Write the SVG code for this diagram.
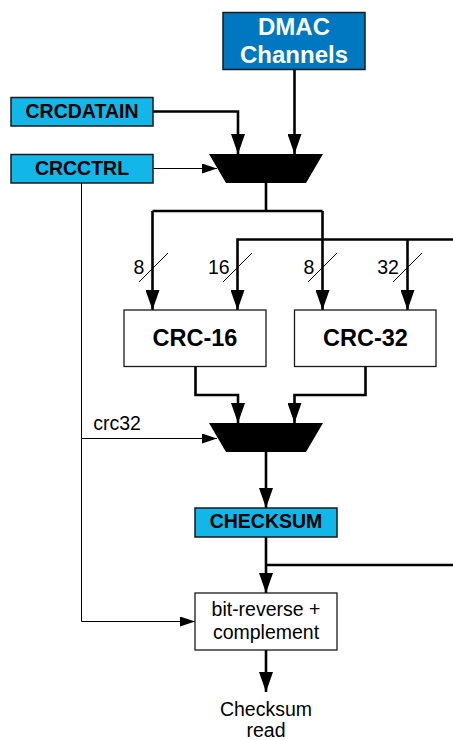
<svg xmlns="http://www.w3.org/2000/svg" width="453" height="740" viewBox="0 0 453 740">
<style>
text{font-family:"Liberation Sans",Arial,sans-serif;text-anchor:middle}
.reg{fill:#13B6E9;stroke:#1a1a1a;stroke-width:1.5}
.blk{fill:#fff;stroke:#1a1a1a;stroke-width:1.3}
.b15{font-size:19.5px;font-weight:bold;fill:#000}
.b20{font-size:23.5px;font-weight:bold;fill:#000}
.n15{font-size:19.5px;fill:#000}
.num{font-size:19.5px;fill:#000}
.thick{fill:none;stroke:#000;stroke-width:2.6}
.thin{fill:none;stroke:#000;stroke-width:1}
.sl{stroke:#000;stroke-width:1}
</style>
<defs>
<marker id="ah" viewBox="0 0 20 14" refX="20" refY="7" markerWidth="20" markerHeight="14" markerUnits="userSpaceOnUse" orient="auto"><path d="M0,0 L20,7 L0,14 z" fill="#000"/></marker>
<marker id="ahs" viewBox="0 0 15 10" refX="15" refY="5" markerWidth="15" markerHeight="10" markerUnits="userSpaceOnUse" orient="auto"><path d="M0,0 L15,5 L0,10 z" fill="#000"/></marker>
</defs>
<g id="connectors">
<path class="thick" d="M153,111.5 H238 V154" marker-end="url(#ah)"/>
<path class="thick" d="M294.5,69.5 V154" marker-end="url(#ah)"/>
<path class="thin" d="M153,168.5 H217" marker-end="url(#ahs)"/>
<path class="thick" d="M266,183 V211"/>
<path class="thick" d="M152.5,211 H322.5"/>
<path class="thick" d="M152.5,211 V310" marker-end="url(#ah)"/>
<path class="thick" d="M322.5,211 V310" marker-end="url(#ah)"/>
<path class="thick" d="M453,239.5 H237.5 V310" marker-end="url(#ah)"/>
<path class="thick" d="M407.5,239.5 V310" marker-end="url(#ah)"/>
<line class="sl" x1="139" y1="282" x2="168" y2="253"/>
<line class="sl" x1="223" y1="282" x2="252" y2="253"/>
<line class="sl" x1="308" y1="282" x2="337" y2="253"/>
<line class="sl" x1="393" y1="282" x2="422" y2="253"/>
<text class="num" x="139" y="274">8</text>
<text class="num" x="218.8" y="274">16</text>
<text class="num" x="309" y="274">8</text>
<text class="num" x="388" y="274">32</text>
<path class="thick" d="M195.5,366.5 V395 H238 V423" marker-end="url(#ah)"/>
<path class="thick" d="M365.5,366.5 V395 H294.5 V423" marker-end="url(#ah)"/>
<path class="thin" d="M81.5,183 V621.5 H195" marker-end="url(#ahs)"/>
<path class="thin" d="M81.5,438.5 H217" marker-end="url(#ahs)"/>
<text class="n15" x="117" y="430">crc32</text>
<path class="thick" d="M266,452 V508" marker-end="url(#ah)"/>
<path class="thick" d="M266,537 V593" marker-end="url(#ah)"/>
<path class="thick" d="M266,565 H453"/>
<path class="thick" d="M266,650 V692" marker-end="url(#ah)"/>
</g>
<g id="dmac"><rect x="223" y="12.5" width="142" height="57" fill="#0077C1" stroke="#1a1a1a" stroke-width="1.5"/><text x="294" y="34.5" font-size="24" font-weight="bold" fill="#fff">DMAC</text><text x="294" y="62.5" font-size="24" font-weight="bold" fill="#fff">Channels</text></g>
<g id="crcdatain"><rect class="reg" x="11" y="97.5" width="142" height="28.5"/><text class="b15" x="82" y="117.7">CRCDATAIN</text></g>
<g id="crcctrl"><rect class="reg" x="11" y="154.5" width="142" height="28.5"/><text class="b15" x="82" y="174.7">CRCCTRL</text></g>
<g id="mux1"><path d="M209,154 H323 L306,183 H226 z" fill="#000"/></g>
<g id="crc16"><rect class="blk" x="124" y="310" width="142" height="56.5"/><text class="b20" x="195" y="345.7">CRC-16</text></g>
<g id="crc32"><rect class="blk" x="294.5" y="310" width="141.5" height="56.5"/><text class="b20" x="365.5" y="345.7">CRC-32</text></g>
<g id="mux2"><path d="M209,423 H323 L306,452 H226 z" fill="#000"/></g>
<g id="checksum"><rect class="reg" x="195" y="508" width="142" height="29"/><text class="b15" x="266" y="528.3">CHECKSUM</text></g>
<g id="bitrev"><rect class="blk" x="195" y="593" width="142" height="57"/><text class="n15" x="266" y="615.7">bit-reverse +</text><text class="n15" x="266" y="639">complement</text></g>
<g id="out"><text class="n15" x="266" y="715.5">Checksum</text><text class="n15" x="266" y="737">read</text></g>
</svg>
